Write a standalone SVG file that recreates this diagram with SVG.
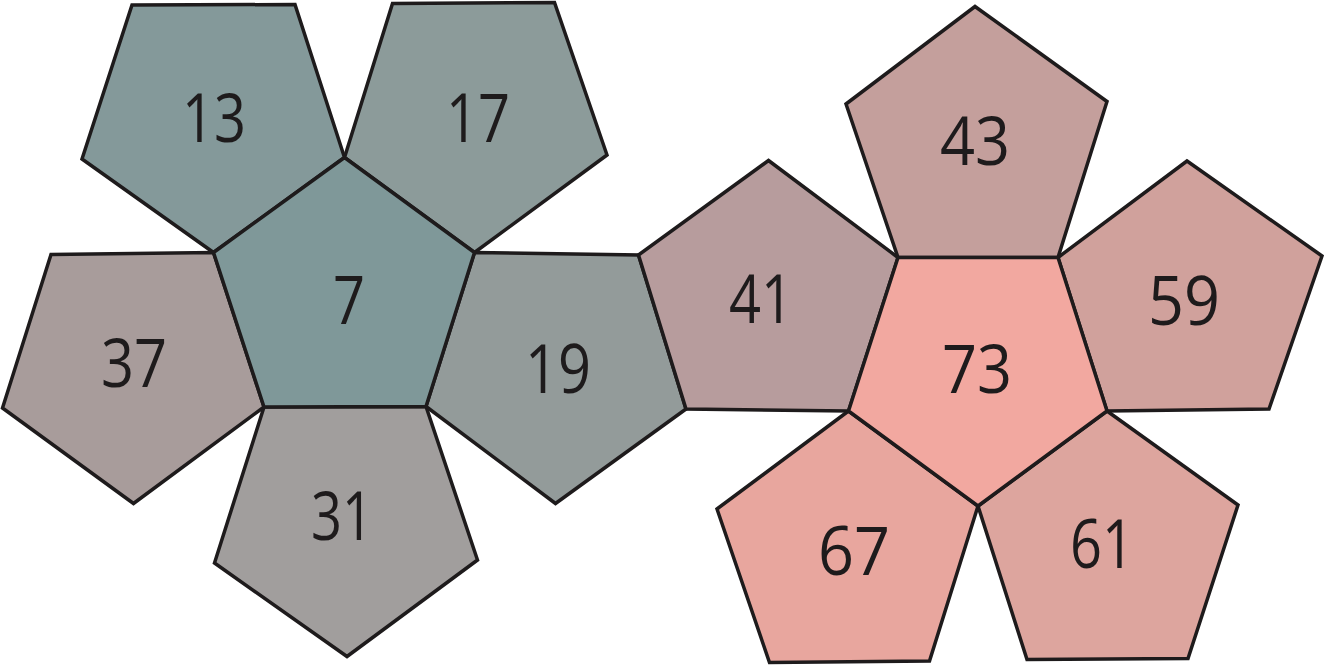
<svg xmlns="http://www.w3.org/2000/svg" width="1325" height="665" viewBox="0 0 1325 665">
<style>
.f{stroke:#1e1b1c;stroke-width:3.5;stroke-linejoin:miter}
.t{font-family:"Open Sans","Noto Sans",sans-serif;font-size:68px;fill:#1e1b1c;text-anchor:middle}
</style>
<rect width="1325" height="665" fill="#fff"/>
<g id="n13"><polygon class="f" fill="#84999a" points="132,5 295,4.5 344.5,157.5 213.5,252.5 82,159"/><text class="t" x="214" y="142" textLength="64" lengthAdjust="spacingAndGlyphs">13</text></g>
<g id="n17"><polygon class="f" fill="#8c9b9a" points="392.5,3.5 554.5,2.5 607,155 474.5,252.5 344.5,157.5"/><text class="t" x="478" y="142" textLength="64" lengthAdjust="spacingAndGlyphs">17</text></g>
<g id="n37"><polygon class="f" fill="#a89c9b" points="51,254.5 213.5,252.5 264,407 133.5,503.5 2.5,408"/><text class="t" x="134" y="387" textLength="66" lengthAdjust="spacingAndGlyphs">37</text></g>
<g id="n31"><polygon class="f" fill="#a19e9d" points="264,407 426,406.5 477.5,560 347,656.5 214.5,563"/><text class="t" x="342" y="540" textLength="62" lengthAdjust="spacingAndGlyphs">31</text></g>
<g id="n19"><polygon class="f" fill="#939b9a" points="474.5,252.5 638.5,255 686,409 555.5,503.5 426,406.5"/><text class="t" x="558" y="393" textLength="66" lengthAdjust="spacingAndGlyphs">19</text></g>
<g id="n7"><polygon class="f" fill="#7f9899" points="344.5,157.5 474.5,252.5 426,406.5 264,407 213.5,252.5"/><text class="t" x="349" y="324" textLength="32" lengthAdjust="spacingAndGlyphs">7</text></g>
<g id="n41"><polygon class="f" fill="#b79c9d" points="768.5,160.5 898,257.5 848.5,411 686,409 638.5,255"/><text class="t" x="761" y="323" textLength="64" lengthAdjust="spacingAndGlyphs">41</text></g>
<g id="n43"><polygon class="f" fill="#c49f9c" points="975,6.5 1107,101.5 1058,257.5 898,257.5 846,104"/><text class="t" x="975" y="165" textLength="70" lengthAdjust="spacingAndGlyphs">43</text></g>
<g id="n59"><polygon class="f" fill="#d0a19c" points="1187,161 1322,256 1269,409 1107,411 1058,257.5"/><text class="t" x="1184" y="325" textLength="72" lengthAdjust="spacingAndGlyphs">59</text></g>
<g id="n67"><polygon class="f" fill="#e8a69e" points="848.5,411 978,506 929.5,661 769.5,662.5 717,509"/><text class="t" x="854" y="575" textLength="72" lengthAdjust="spacingAndGlyphs">67</text></g>
<g id="n61"><polygon class="f" fill="#dda59e" points="1107,411 1238,505 1188,658.5 1027,659.5 978,506"/><text class="t" x="1102" y="568" textLength="64" lengthAdjust="spacingAndGlyphs">61</text></g>
<g id="n73"><polygon class="f" fill="#f2a8a0" points="898,257.5 1058,257.5 1107,411 978,506 848.5,411"/><text class="t" x="977" y="393" textLength="70" lengthAdjust="spacingAndGlyphs">73</text></g>
<g id="connectors"></g>
</svg>
